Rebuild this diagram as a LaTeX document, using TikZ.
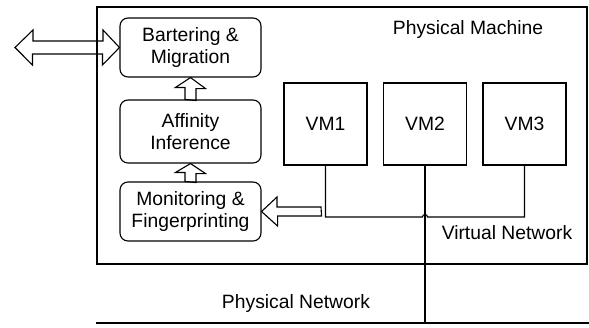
\documentclass[tikz,border=0pt]{standalone}
\usepackage{fontspec}
\setmainfont{Liberation Sans}
\begin{document}
\begin{tikzpicture}[x=1pt, y=-1pt, line width=1.1pt,
        every node/.style={font=\fontsize{19.3}{22.5}\selectfont, align=center, inner sep=0pt},
        m/.style={draw, rounded corners=8pt, minimum width=141pt},
        vm/.style={draw, minimum width=83pt, minimum height=82pt},
        blk/.style={draw, line join=miter}]
            \useasboundingbox (0,0) rectangle (589,327);

            \node[draw, minimum width=490pt, minimum height=257pt] (pm) at (342,135.5) {};
            \node (pmt) at (468,30) {Physical Machine};

            \node[m, minimum height=59pt] (bm) at (190.5,47.5) {Bartering \&\\Migration};
            \node[m, minimum height=63pt] (ai) at (190.5,131.5) {Affinity\\Inference};
            \node[m, minimum height=59pt] (mf) at (190.5,211.5) {Monitoring \&\\Fingerprinting};

            \node[vm] (vm1) at (325.5,124) {VM1};
            \node[vm] (vm2) at (425,124) {VM2};
            \node[vm] (vm3) at (524.5,124) {VM3};

            \node (vnt) at (507,233) {Virtual Network};
            \node (pnt) at (296,304) {Physical Network};

            \coordinate (ext) at (15,47.5);
            \coordinate (mft) at (321,211.5);
            \coordinate (vn) at (0,217);
            \coordinate (pnl) at (96,323);
            \coordinate (pnr) at (589,323);

            \draw[blk] (ext) -- ++(18,-17.5) -- ++(0,11) -- ++(70,0) -- ++(0,-11) -- (bm.west)
                -- ++(-17,17.5) -- ++(0,-11) -- ++(-70,0) -- ++(0,11) -- cycle;
            \draw[blk] (ai.north) ++(-5.5,0) -- ++(0,-12) -- ++(-9.5,0) -- (bm.south)
                -- ++(15,11) -- ++(-9.5,0) -- ++(0,12) -- cycle;
            \draw[blk] (mf.north) ++(-5.5,0) -- ++(0,-9) -- ++(-9.5,0) -- (ai.south)
                -- ++(15,10) -- ++(-9.5,0) -- ++(0,9) -- cycle;
            \draw[blk] (mft) ++(0,-4.5) -- ++(-44,0) -- ++(0,-10) -- (mf.east)
                -- ++(16,14.5) -- ++(0,-10) -- ++(44,0) -- cycle;

            \draw (vm1.south) |- ([xshift=-2.5pt]vm2.south |- vn) arc(180:0:2.5pt) -| (vm3.south);
            \draw (vm2.south) -- (vm2 |- pm.south);
            \draw[line width=2.5pt] (vm2 |- pm.south) -- (vm2 |- pnl);
            \draw[line width=2.5pt] (pnl) -- (pnr);
        \end{tikzpicture}
\end{document}
